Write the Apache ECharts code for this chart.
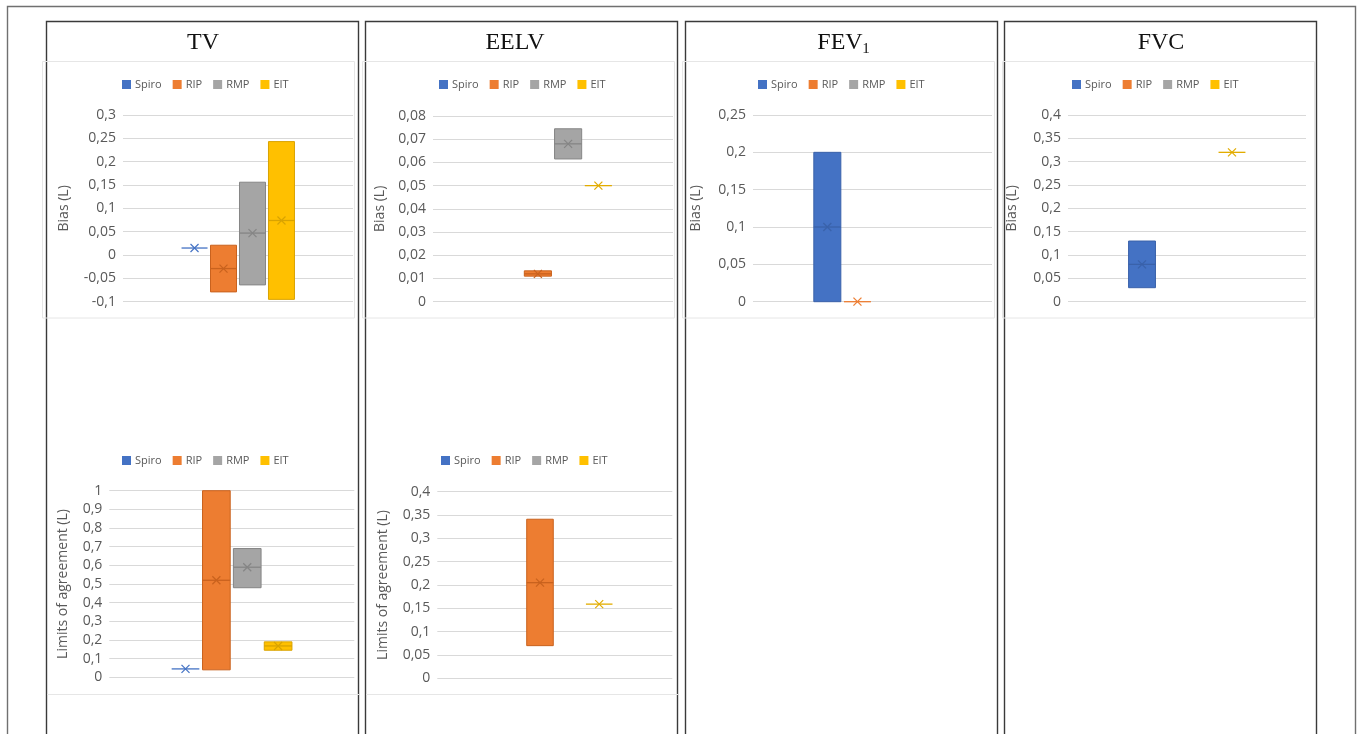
<!DOCTYPE html>
<html>
<head>
<meta charset="utf-8">
<script src="https://cdn.jsdelivr.net/npm/echarts@6/dist/echarts.min.js"></script>
<style>
  html, body { margin: 0; padding: 0; background: #ffffff; }
  #chart { width: 1358px; height: 734px; }
</style>
</head>
<body>
<div id="chart"></div>
<script>
// Measurement methods (one box per method in every panel)
const methods = ['Spiro', 'RIP', 'RMP', 'EIT'];

// TV - bias (L): lower edge, upper edge, mean
const tvBiasLow  = [0.015, -0.079, -0.064, -0.095];
const tvBiasHigh = [0.015,  0.021,  0.156,  0.243];
const tvBiasMean = [0.015, -0.029,  0.047,  0.074];

// EELV - bias (L)
const eelvBiasLow  = [null, 0.011,  0.0615, 0.050];
const eelvBiasHigh = [null, 0.0133, 0.0745, 0.050];
const eelvBiasMean = [null, 0.012,  0.068,  0.050];

// FEV1 - bias (L)
const fev1BiasLow  = [0.000, 0.000, null, null];
const fev1BiasHigh = [0.200, 0.000, null, null];
const fev1BiasMean = [0.100, 0.000, null, null];

// FVC - bias (L)
const fvcBiasLow  = [0.030, null, null, 0.320];
const fvcBiasHigh = [0.130, null, null, 0.320];
const fvcBiasMean = [0.080, null, null, 0.320];

// TV - limits of agreement (L)
const tvLoaLow  = [0.045, 0.040, 0.480, 0.145];
const tvLoaHigh = [0.045, 1.000, 0.690, 0.190];
const tvLoaMean = [0.045, 0.520, 0.590, 0.168];

// EELV - limits of agreement (L)
const eelvLoaLow  = [null, 0.070, null, 0.159];
const eelvLoaHigh = [null, 0.341, null, 0.159];
const eelvLoaMean = [null, 0.205, null, 0.159];

// Value-axis ranges: [min, max, interval]
const tvBiasTicks   = [-0.1, 0.3, 0.05];
const eelvBiasTicks = [0, 0.08, 0.01];
const fev1BiasTicks = [0, 0.25, 0.05];
const fvcBiasTicks  = [0, 0.4, 0.05];
const tvLoaTicks    = [0, 1, 0.1];
const eelvLoaTicks  = [0, 0.4, 0.05];

// Column headings
const columnTitles = ['TV', 'EELV', 'FEV', 'FVC'];

// ---- styling ----
const fillColors = ['#4472C4', '#ED7D31', '#A5A5A5', '#FFC000'];
const edgeColors = ['#3A62AA', '#C9621E', '#858585', '#D9A300'];
const flatColors = ['#4472C4', '#ED7D31', '#A5A5A5', '#E2AC00'];
const textGray = '#595959';
const uiFont = '"Open Sans", "Noto Sans", sans-serif';

// Panel layout (pixels)
const panels = [
  { low: tvBiasLow,   high: tvBiasHigh,   mean: tvBiasMean,   ticks: tvBiasTicks,   yName: 'Bias (L)',
    grid: { left: 123, top: 115, width: 230, height: 186.7 }, nameGap: 52, legend: { cx: 206, cy: 84 } },
  { low: eelvBiasLow, high: eelvBiasHigh, mean: eelvBiasMean, ticks: eelvBiasTicks, yName: 'Bias (L)',
    grid: { left: 433, top: 116, width: 240, height: 185.7 }, nameGap: 46, legend: { cx: 523, cy: 84 } },
  { low: fev1BiasLow, high: fev1BiasHigh, mean: fev1BiasMean, ticks: fev1BiasTicks, yName: 'Bias (L)',
    grid: { left: 753, top: 115, width: 239, height: 186.7 }, nameGap: 50, legend: { cx: 842, cy: 84 } },
  { low: fvcBiasLow,  high: fvcBiasHigh,  mean: fvcBiasMean,  ticks: fvcBiasTicks,  yName: 'Bias (L)',
    grid: { left: 1068, top: 115, width: 238, height: 186.7 }, nameGap: 49, legend: { cx: 1156, cy: 84 } },
  { low: tvLoaLow,    high: tvLoaHigh,    mean: tvLoaMean,    ticks: tvLoaTicks,    yName: 'Limits of agreement (L)',
    grid: { left: 109.3, top: 490.7, width: 245, height: 186.6 }, nameGap: 39, legend: { cx: 206, cy: 460 } },
  { low: eelvLoaLow,  high: eelvLoaHigh,  mean: eelvLoaMean,  ticks: eelvLoaTicks,  yName: 'Limits of agreement (L)',
    grid: { left: 437.3, top: 491.7, width: 235, height: 186.6 }, nameGap: 47, legend: { cx: 525, cy: 460 } }
];

// Draws one method's box: filled range, mean line and an "x" marker
function makeBoxRenderer(slot) {
  return function (params, api) {
    const lo = api.value(1), hi = api.value(2), mid = api.value(3);
    const band = api.size([1, 0])[0];
    const step = band * 0.126;
    const w = band * 0.113;
    const cx = api.coord([0, mid])[0] + (slot - 1.5) * step;
    const yLo = api.coord([0, lo])[1];
    const yHi = api.coord([0, hi])[1];
    const yMid = api.coord([0, mid])[1];
    const x0 = cx - w / 2;
    const children = [];
    let markColor = flatColors[slot];
    if (Math.abs(yLo - yHi) > 0.5) {
      children.push({
        type: 'rect',
        shape: { x: x0, y: yHi, width: w, height: yLo - yHi },
        style: { fill: fillColors[slot], stroke: edgeColors[slot], lineWidth: 1 }
      });
      markColor = edgeColors[slot];
    }
    children.push({
      type: 'line',
      shape: { x1: x0, y1: yMid, x2: x0 + w, y2: yMid },
      style: { stroke: markColor, lineWidth: 1.3 }
    });
    const s = 4;
    children.push({
      type: 'line',
      shape: { x1: cx - s, y1: yMid - s, x2: cx + s, y2: yMid + s },
      style: { stroke: markColor, lineWidth: 1.2 }
    });
    children.push({
      type: 'line',
      shape: { x1: cx - s, y1: yMid + s, x2: cx + s, y2: yMid - s },
      style: { stroke: markColor, lineWidth: 1.2 }
    });
    return { type: 'group', children: children };
  };
}

const fmt = v => String(Math.round(v * 10000) / 10000).replace('.', ',');

const grids = [], xAxes = [], yAxes = [], series = [], legends = [];
panels.forEach((p, i) => {
  grids.push(Object.assign({ containLabel: false, outerBoundsMode: 'none' }, p.grid));
  xAxes.push({
    type: 'category', gridIndex: i, data: [''],
    axisLine: { show: false }, axisTick: { show: false }, axisLabel: { show: false },
    splitLine: { show: false }
  });
  yAxes.push({
    type: 'value', gridIndex: i,
    min: p.ticks[0], max: p.ticks[1], interval: p.ticks[2],
    name: p.yName, nameLocation: 'middle', nameGap: p.nameGap,
    nameTextStyle: { color: textGray, fontSize: 14, fontFamily: uiFont },
    axisLine: { show: false }, axisTick: { show: false },
    axisLabel: { color: textGray, fontSize: 14, fontFamily: uiFont, margin: 7, formatter: fmt },
    splitLine: { lineStyle: { color: '#D9D9D9', width: 1 } }
  });
  methods.forEach((m, k) => {
    const data = (p.mean[k] === null) ? [] : [[0, p.low[k], p.high[k], p.mean[k]]];
    series.push({
      type: 'custom', name: m, xAxisIndex: i, yAxisIndex: i,
      itemStyle: { color: fillColors[k] },
      encode: { x: 0, y: [1, 2, 3] },
      renderItem: makeBoxRenderer(k),
      silent: true,
      data: data
    });
  });
  legends.push({
    data: methods, left: p.legend.cx - 84, top: p.legend.cy - 5,
    icon: 'rect', itemWidth: 9, itemHeight: 9, itemGap: 11,
    selectedMode: false, padding: 0,
    textStyle: { color: textGray, fontSize: 11, fontFamily: uiFont, padding: [0, 0, 0, -1] }
  });
});

// Frames, chart-area outlines and column headings
const graphics = [];
graphics.push({ type: 'rect', silent: true, shape: { x: 7.5, y: 6.5, width: 1348, height: 800 },
  style: { fill: 'none', stroke: '#707070', lineWidth: 1.4 } });
const columnX = [46.5, 365.5, 685.5, 1004.5];
columnX.forEach(x => {
  graphics.push({ type: 'rect', silent: true, shape: { x: x, y: 21.5, width: 312, height: 800 },
    style: { fill: 'none', stroke: '#3A3A3A', lineWidth: 1.4 } });
});
const areaX = [42.5, 362.5, 682.5, 1002.5];
areaX.forEach(x => {
  graphics.push({ type: 'rect', silent: true, shape: { x: x, y: 61.5, width: 312, height: 256.5 },
    style: { fill: 'none', stroke: '#E6E6E6', lineWidth: 1 } });
});
[[47, 359], [366, 678]].forEach(seg => {
  graphics.push({ type: 'line', silent: true, shape: { x1: seg[0], y1: 694.5, x2: seg[1], y2: 694.5 },
    style: { stroke: '#E6E6E6', lineWidth: 1 } });
});
const titleCx = [203, 515, 840, 1161];
const serif = '"Liberation Serif", "DejaVu Serif", serif';
columnTitles.forEach((t, i) => {
  graphics.push({ type: 'text', silent: true, x: titleCx[i], y: 43,
    style: { text: t, fill: '#111111', fontSize: 24, fontFamily: serif,
      align: 'center', verticalAlign: 'middle' } });
});
graphics.push({ type: 'text', silent: true, x: 866, y: 49,
  style: { text: '1', fill: '#111111', fontSize: 15, fontFamily: serif,
    align: 'center', verticalAlign: 'middle' } });

const chart = echarts.init(document.getElementById('chart'), null, { renderer: 'canvas' });
chart.setOption({
  backgroundColor: '#ffffff',
  animation: false,
  grid: grids,
  xAxis: xAxes,
  yAxis: yAxes,
  legend: legends,
  series: series,
  graphic: graphics
});
</script>
</body>
</html>
